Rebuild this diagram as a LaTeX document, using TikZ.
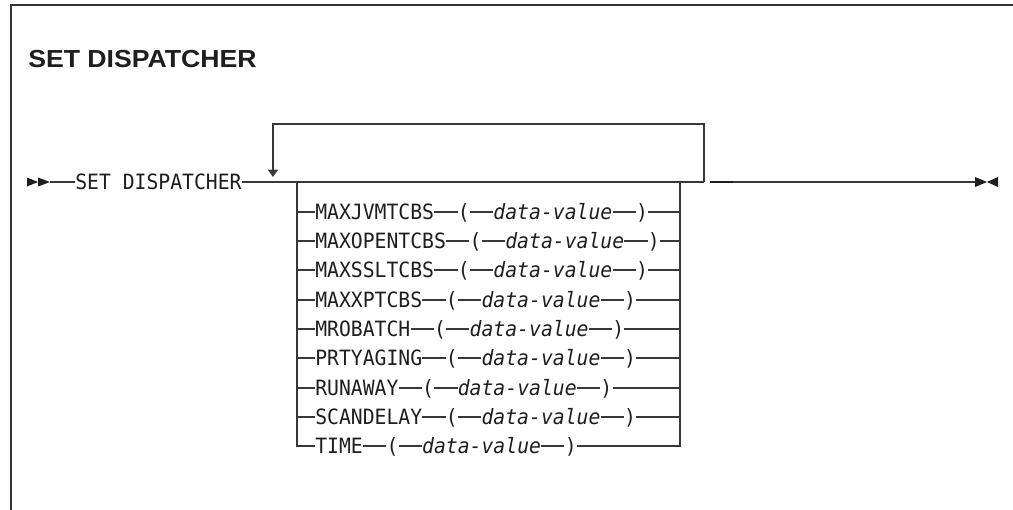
\documentclass[tikz,border=0pt]{standalone}
\usepackage{fontspec}
\setmainfont{Liberation Sans}
\newfontfamily\monofont[FakeStretch=0.937]{DejaVu Sans Mono}
\newfontfamily\titlefont[FakeStretch=1.08]{Liberation Sans}
\usetikzlibrary{arrows.meta}
\definecolor{linec}{HTML}{383838}
\definecolor{txtc}{HTML}{1E1E1E}
\definecolor{framec}{HTML}{333333}
\begin{document}
\begin{tikzpicture}[x=0.75pt,y=-0.75pt,
  ln/.style={draw=linec,line width=1.1pt},
  kw/.style={font={\monofont\fontsize{15.8pt}{17pt}\selectfont},inner sep=0pt,
    text height=11.5pt,text depth=0pt,anchor=west,text=txtc},
  var/.style={kw,font={\monofont\itshape\fontsize{15.8pt}{17pt}\selectfont}},
  tipfill/.style={fill=txtc,draw=none}]
\useasboundingbox (0,0) rectangle (1013,510);
% frame
\draw[framec,line width=1.5pt] (11,512) -- (11,5) -- (1015,5);
% title
\node[anchor=base west,inner sep=0pt,text=txtc,
  font={\titlefont\bfseries\fontsize{18.5pt}{21pt}\selectfont}] (title) at (28,68) {SET DISPATCHER};
% start marker
\coordinate (s) at (50,182);
\fill[tipfill] (27,177.5) -- (38,182) -- (27,186.5) -- cycle;
\fill[tipfill] (38,177.5) -- (50,182) -- (38,186.5) -- cycle;
\node[kw] (cmd) at (75,182) {SET DISPATCHER};
\draw[ln] (s) -- (cmd.west);
% junctions
\coordinate (jL) at (297,182);
\coordinate (jR) at (680,182);
\coordinate (lpE) at (704,182);
\coordinate (lpS) at (273,177);
\draw[ln] (cmd.east) -- (lpE);
% repeat loop
\draw[ln,-{Triangle[length=5.5pt,width=7.5pt]}] (lpE) -- (704,124) -- (273,124) -- (lpS);
% continuation
\coordinate (d1) at (710,182);
\coordinate (d2) at (733,182);
\coordinate (e) at (975,182);
\draw[line width=1.7pt,txtc] (d1) -- (d2);
\draw[ln] (d2) -- (e);
\fill[tipfill] (975,177) -- (987,182) -- (975,187) -- cycle;
\fill[tipfill] (998,177) -- (987,182) -- (998,187) -- cycle;
% choice rows
\def\cw{11.88}
\foreach \k/\n/\yy [count=\i] in {MAXJVMTCBS/10/212,MAXOPENTCBS/11/241,MAXSSLTCBS/10/270,MAXXPTCBS/9/300,MROBATCH/8/329,PRTYAGING/9/358,RUNAWAY/7/388,SCANDELAY/9/417,TIME/4/446}{
  \coordinate (L\i) at (297,\yy);
  \coordinate (R\i) at (680,\yy);
  \node[kw] (k\i) at (315,\yy) {\k};
  \node[kw] (lp\i) at ({315+(\n+2)*\cw},\yy) {(};
  \node[var] (dv\i) at ({315+(\n+5)*\cw},\yy) {data-value};
  \node[kw] (rp\i) at ({315+(\n+17)*\cw},\yy) {)};
  \draw[ln] (k\i.east) -- (lp\i.west);
  \draw[ln] (lp\i.east) -- (dv\i.west);
  \draw[ln] (dv\i.east) -- (rp\i.west);
}
\foreach \i in {1,...,8}{
  \draw[ln] (L\i) -- (k\i.west);
  \draw[ln] (rp\i.east) -- (R\i);
}
\draw[ln] (jL) -- (L9) -- (k9.west);
\draw[ln] (rp9.east) -- (R9) -- (jR);
\end{tikzpicture}
\end{document}
